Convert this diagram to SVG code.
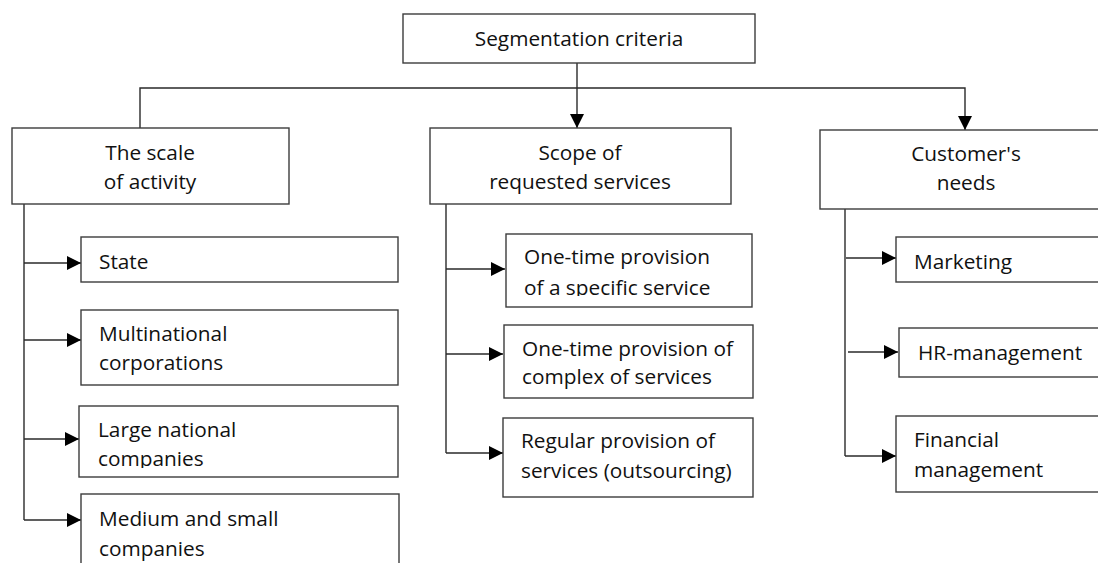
<svg xmlns="http://www.w3.org/2000/svg" width="1098" height="563" viewBox="0 0 1098 563">
<style>
.box{fill:#fff;stroke:#3c3c3c;stroke-width:1.4}
.t{font-family:"Open Sans","Noto Sans",sans-serif;font-size:20.8px;fill:#111}
.c{text-anchor:middle}
.ln{fill:none;stroke:#2a2a2a;stroke-width:1.4}
</style>
<defs>
<marker id="ah" markerUnits="userSpaceOnUse" markerWidth="14" markerHeight="14" viewBox="0 0 14 14" refX="14" refY="7" orient="auto">
<path d="M0,0 L14,7 L0,14 Z" fill="#000"/>
</marker>
<clipPath id="clipLarge"><rect x="79" y="406" width="320" height="62"/></clipPath>
<clipPath id="clipSpecific"><rect x="506" y="234" width="246" height="62"/></clipPath>
</defs>
<rect width="1098" height="563" fill="#fff"/>
<g id="connectors">
<line class="ln" x1="577" y1="63" x2="577" y2="128" marker-end="url(#ah)"/>
<polyline class="ln" points="140,128 140,88 965,88 965,130" marker-end="url(#ah)"/>
<line class="ln" x1="24" y1="204" x2="24" y2="520"/>
<line class="ln" x1="24" y1="263" x2="81" y2="263" marker-end="url(#ah)"/>
<line class="ln" x1="24" y1="340" x2="81" y2="340" marker-end="url(#ah)"/>
<line class="ln" x1="24" y1="439" x2="79" y2="439" marker-end="url(#ah)"/>
<line class="ln" x1="24" y1="520" x2="81" y2="520" marker-end="url(#ah)"/>
<line class="ln" x1="446" y1="204" x2="446" y2="453"/>
<line class="ln" x1="446" y1="269" x2="505" y2="269" marker-end="url(#ah)"/>
<line class="ln" x1="446" y1="354" x2="503" y2="354" marker-end="url(#ah)"/>
<line class="ln" x1="446" y1="453" x2="503" y2="453" marker-end="url(#ah)"/>
<line class="ln" x1="845" y1="209" x2="845" y2="456"/>
<line class="ln" x1="846" y1="258" x2="896" y2="258" marker-end="url(#ah)"/>
<line class="ln" x1="848" y1="352" x2="898" y2="352" marker-end="url(#ah)"/>
<line class="ln" x1="845" y1="456" x2="896" y2="456" marker-end="url(#ah)"/>
</g>
<g id="root">
<rect class="box" x="403" y="14" width="352" height="49"/>
<text class="t c" x="579" y="46">Segmentation criteria</text>
</g>
<g id="scale">
<rect class="box" x="12" y="128" width="277" height="76"/>
<text class="t c" x="150" y="160">The scale</text>
<text class="t c" x="150" y="189">of activity</text>
</g>
<g id="scope">
<rect class="box" x="430" y="128" width="301" height="76"/>
<text class="t c" x="580" y="160">Scope of</text>
<text class="t c" x="580" y="189">requested services</text>
</g>
<g id="needs">
<rect class="box" x="820" y="130" width="290" height="79"/>
<text class="t c" x="966" y="161">Customer's</text>
<text class="t c" x="966" y="190">needs</text>
</g>
<g id="state">
<rect class="box" x="81" y="237" width="317" height="45"/>
<text class="t" x="99" y="269">State</text>
</g>
<g id="multinational">
<rect class="box" x="81" y="310" width="317" height="75"/>
<text class="t" x="99" y="341">Multinational</text>
<text class="t" x="99" y="370">corporations</text>
</g>
<g id="large">
<rect class="box" x="79" y="406" width="319" height="71"/>
<g clip-path="url(#clipLarge)">
<text class="t" x="98" y="437">Large national</text>
<text class="t" x="98" y="466">companies</text>
</g>
</g>
<g id="medium">
<rect class="box" x="81" y="494" width="318" height="80"/>
<text class="t" x="99" y="526">Medium and small</text>
<text class="t" x="99" y="556">companies</text>
</g>
<g id="onetime-specific">
<rect class="box" x="506" y="234" width="246" height="73"/>
<g clip-path="url(#clipSpecific)">
<text class="t" x="524" y="264">One-time provision</text>
<text class="t" x="524" y="295">of a specific service</text>
</g>
</g>
<g id="onetime-complex">
<rect class="box" x="504" y="325" width="249" height="73"/>
<text class="t" x="522" y="356">One-time provision of</text>
<text class="t" x="522" y="384">complex of services</text>
</g>
<g id="regular">
<rect class="box" x="503" y="418" width="250" height="79"/>
<text class="t" x="521" y="448">Regular provision of</text>
<text class="t" x="521" y="478">services (outsourcing)</text>
</g>
<g id="marketing">
<rect class="box" x="896" y="237" width="210" height="45"/>
<text class="t" x="914" y="269">Marketing</text>
</g>
<g id="hr">
<rect class="box" x="899" y="328" width="210" height="49"/>
<text class="t" x="918" y="360">HR-management</text>
</g>
<g id="financial">
<rect class="box" x="896" y="416" width="210" height="76"/>
<text class="t" x="914" y="447">Financial</text>
<text class="t" x="914" y="477">management</text>
</g>
</svg>
